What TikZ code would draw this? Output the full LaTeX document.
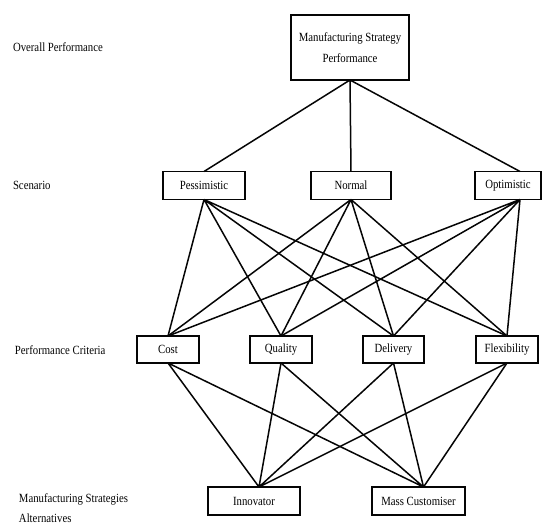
\documentclass[tikz,border=0pt]{standalone}
\usepackage{fontspec}
\setmainfont{Liberation Serif}[FakeStretch=0.86]
\newlength{\du}
\setlength{\du}{1pt}
\tikzset{
  diabox/.style={draw=dialinecolor, fill=diafillcolor, line width=1.3\du, inner sep=0pt, outer sep=0pt, minimum height=28\du, font=\fontsize{12.5}{14}\selectfont},
  dialabel/.style={anchor=west, inner sep=0pt, outer sep=0pt, color=dialinecolor, font=\fontsize{12.5}{14}\selectfont},
  dialink/.style={draw=dialinecolor, line width=1.5\du},
}
\begin{document}
\begin{tikzpicture}[even odd rule]
\pgftransformxscale{1.000000}
\pgftransformyscale{-1.000000}
\definecolor{dialinecolor}{rgb}{0.020000, 0.020000, 0.020000}
\definecolor{diafillcolor}{rgb}{1.000000, 1.000000, 1.000000}
\useasboundingbox[fill=diafillcolor] (0.000000\du,0.000000\du) rectangle (555.000000\du,524.000000\du);
% levels
\node[dialabel] (lvlzero) at (13.000000\du,47.000000\du){Overall Performance};
\node[dialabel] (lvlone) at (13.000000\du,185.500000\du){Scenario};
\node[dialabel] (lvltwo) at (15.000000\du,350.000000\du){Performance Criteria};
\node[dialabel, align=left, font=\fontsize{12.5}{19.5}\selectfont] (lvlthree) at (19.000000\du,508.000000\du){Manufacturing Strategies\\Alternatives};
% boxes
\node[diabox, minimum width=118\du, minimum height=65\du, align=center, font=\fontsize{12.5}{21}\selectfont] (msp) at (350.000000\du,47.500000\du){Manufacturing Strategy\\Performance};
\node[diabox, minimum width=82\du] (pess) at (204.000000\du,185.500000\du){Pessimistic};
\node[diabox, minimum width=80\du] (norm) at (351.000000\du,185.500000\du){Normal};
\node[diabox, minimum width=66\du] (opt) at (508.000000\du,185.500000\du){Optimistic};
\node[diabox, minimum width=62\du, minimum height=27\du] (cost) at (168.000000\du,349.500000\du){Cost};
\node[diabox, minimum width=62\du, minimum height=27\du] (qual) at (281.000000\du,349.500000\du){Quality};
\node[diabox, minimum width=61\du, minimum height=27\du] (deliv) at (393.500000\du,349.500000\du){Delivery};
\node[diabox, minimum width=62\du, minimum height=27\du] (flex) at (507.000000\du,349.500000\du){Flexibility};
\node[diabox, minimum width=92\du] (innov) at (254.000000\du,501.000000\du){Innovator};
\node[diabox, minimum width=93\du] (masscust) at (418.500000\du,501.000000\du){Mass Customiser};
% links
\draw[dialink] (msp.south)--(pess.north) (msp.south)--(norm.north) (msp.south)--([xshift=12\du]opt.north);
\draw[dialink] (pess.south)--(cost.north) (pess.south)--(qual.north) (pess.south)--(deliv.north) (pess.south)--(flex.north);
\draw[dialink] (norm.south)--(cost.north) (norm.south)--(qual.north) (norm.south)--(deliv.north) (norm.south)--(flex.north);
\draw[dialink] ([xshift=12\du]opt.south)--(cost.north) ([xshift=12\du]opt.south)--(qual.north) ([xshift=12\du]opt.south)--(deliv.north) ([xshift=12\du]opt.south)--(flex.north);
\draw[dialink] (cost.south)--([xshift=5\du]innov.north) (qual.south)--([xshift=5\du]innov.north) (deliv.south)--([xshift=5\du]innov.north) (flex.south)--([xshift=5\du]innov.north);
\draw[dialink] (cost.south)--([xshift=5\du]masscust.north) (qual.south)--([xshift=5\du]masscust.north) (deliv.south)--([xshift=5\du]masscust.north) (flex.south)--([xshift=5\du]masscust.north);
\end{tikzpicture}
\end{document}
